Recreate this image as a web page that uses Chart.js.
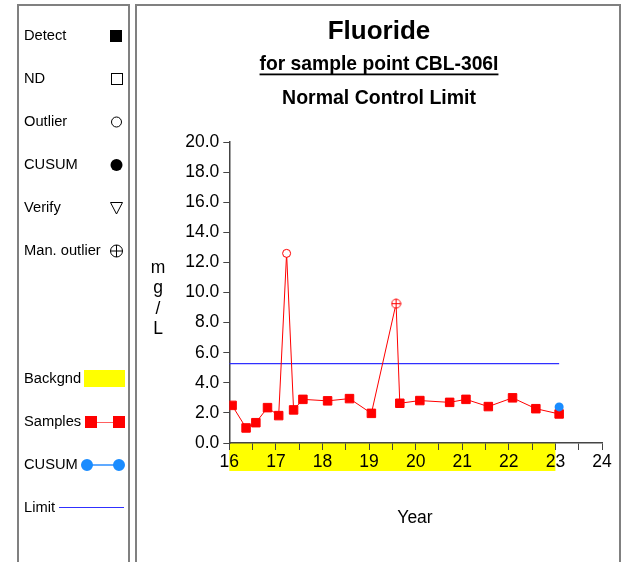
<!DOCTYPE html>
<html>
<head>
<meta charset="utf-8">
<script src="https://cdn.jsdelivr.net/npm/chart.js@4.4.1/dist/chart.umd.min.js"></script>
<style>
  body { margin: 0; background: #fff; }
  canvas { display: block; }
</style>
</head>
<body>
<canvas id="chart" width="630" height="562"></canvas>
<script>
// sample data
const sampleYear = [16.06, 16.36, 16.57, 16.82, 17.06, 17.23, 17.38, 17.58, 18.11, 18.58,
  19.05, 19.58, 19.66, 20.09, 20.73, 21.08, 21.56, 22.08, 22.58, 23.08];
const sampleValue = [2.5, 1.0, 1.35, 2.35, 1.82, 12.6, 2.2, 2.9, 2.8, 2.95,
  1.97, 9.26, 2.64, 2.82, 2.7, 2.9, 2.42, 3.0, 2.28, 1.93];
// D = detect, O = outlier, M = manual outlier
const sampleFlag = ["D", "D", "D", "D", "D", "O", "D", "D", "D", "D",
  "D", "M", "D", "D", "D", "D", "D", "D", "D", "D"];

const cusumYear = [23.08];
const cusumValue = [2.4];

const limitYear = [16, 23.08];
const limitValue = [5.28, 5.28];

const backgroundRange = [16, 23];

const yTicks = [0, 2, 4, 6, 8, 10, 12, 14, 16, 18, 20];

const FONT = "'Liberation Sans', Arial, sans-serif";
const RED = "#ff0000";
const CUSUM_BLUE = "#1a8cff";
const LIMIT_BLUE = "#3030ff";

// circle with a cross for manual outliers
function makeManOutlier() {
  const c = document.createElement("canvas");
  c.width = 11;
  c.height = 11;
  const g = c.getContext("2d");
  g.strokeStyle = RED;
  g.fillStyle = "#fff";
  g.lineWidth = 1;
  g.beginPath();
  g.arc(5.5, 5.5, 4.5, 0, Math.PI * 2);
  g.fill();
  g.stroke();
  g.beginPath();
  g.moveTo(1, 5.5);
  g.lineTo(10, 5.5);
  g.moveTo(5.5, 1);
  g.lineTo(5.5, 10);
  g.stroke();
  return c;
}
const manOutlierImg = makeManOutlier();

function zip(xs, ys) {
  return xs.map((x, i) => ({ x: x, y: ys[i] }));
}

// frames, titles, legend panel and the yellow background strip
const decorPlugin = {
  id: "decor",
  beforeDraw(chart) {
    const ctx = chart.ctx;
    const xs = chart.scales.x;
    const area = chart.chartArea;
    ctx.save();
    ctx.fillStyle = "#fff";
    ctx.fillRect(0, 0, chart.width, chart.height);

    ctx.strokeStyle = "#808080";
    ctx.lineWidth = 2;
    ctx.strokeRect(18, 5, 111, 600);
    ctx.strokeRect(136, 5, 484, 600);

    // background strip under the axis
    const x0 = xs.getPixelForValue(backgroundRange[0]);
    const x1 = xs.getPixelForValue(backgroundRange[1]);
    ctx.fillStyle = "#ffff00";
    ctx.fillRect(x0, area.bottom, x1 - x0, 28);

    // titles
    ctx.fillStyle = "#000";
    ctx.textAlign = "center";
    ctx.textBaseline = "middle";
    ctx.font = "bold 26px " + FONT;
    ctx.fillText("Fluoride", 379, 32);
    ctx.font = "bold 19.3px " + FONT;
    const sub = "for sample point CBL-306I";
    ctx.fillText(sub, 379, 65);
    const w = ctx.measureText(sub).width;
    ctx.fillRect(379 - w / 2, 73.5, w, 1.8);
    ctx.font = "bold 19.5px " + FONT;
    ctx.fillText("Normal Control Limit", 379, 99);

    // axis titles
    ctx.font = "17.5px " + FONT;
    ["m", "g", "/", "L"].forEach((ch, i) => {
      ctx.fillText(ch, 158, 268 + i * 20.5);
    });
    ctx.fillText("Year", 415, 518);

    // legend
    ctx.textAlign = "left";
    ctx.font = "14.7px " + FONT;
    const sx = 116.5;
    const items = ["Detect", "ND", "Outlier", "CUSUM", "Verify", "Man. outlier"];
    items.forEach((t, i) => ctx.fillText(t, 24, 36 + i * 43));
    ctx.lineWidth = 1;
    ctx.strokeStyle = "#000";
    ctx.fillStyle = "#000";
    ctx.fillRect(110, 30, 12, 12);
    ctx.strokeRect(111.5, 73.5, 11, 11);
    ctx.beginPath();
    ctx.arc(sx, 122, 5, 0, Math.PI * 2);
    ctx.stroke();
    ctx.beginPath();
    ctx.arc(sx, 165, 6, 0, Math.PI * 2);
    ctx.fill();
    ctx.beginPath();
    ctx.moveTo(sx - 6, 202.5);
    ctx.lineTo(sx + 6, 202.5);
    ctx.lineTo(sx, 214);
    ctx.closePath();
    ctx.stroke();
    ctx.beginPath();
    ctx.arc(sx, 251, 6, 0, Math.PI * 2);
    ctx.moveTo(sx - 6, 251);
    ctx.lineTo(sx + 6, 251);
    ctx.moveTo(sx, 245);
    ctx.lineTo(sx, 257);
    ctx.stroke();

    ctx.fillStyle = "#000";
    ctx.fillText("Backgnd", 24, 379);
    ctx.fillText("Samples", 24, 422);
    ctx.fillText("CUSUM", 24, 465);
    ctx.fillText("Limit", 24, 508);

    ctx.fillStyle = "#ffff00";
    ctx.fillRect(84, 370, 41, 17);

    ctx.strokeStyle = "#ff6060";
    ctx.beginPath();
    ctx.moveTo(90, 422.5);
    ctx.lineTo(120, 422.5);
    ctx.stroke();
    ctx.fillStyle = RED;
    ctx.fillRect(85, 416, 12, 12);
    ctx.fillRect(113, 416, 12, 12);

    ctx.strokeStyle = "#60aaff";
    ctx.lineWidth = 2;
    ctx.beginPath();
    ctx.moveTo(87, 465);
    ctx.lineTo(119, 465);
    ctx.stroke();
    ctx.fillStyle = CUSUM_BLUE;
    ctx.beginPath();
    ctx.arc(87, 465, 6, 0, Math.PI * 2);
    ctx.arc(119, 465, 6, 0, Math.PI * 2);
    ctx.fill();

    ctx.strokeStyle = LIMIT_BLUE;
    ctx.lineWidth = 1.2;
    ctx.beginPath();
    ctx.moveTo(59, 507.5);
    ctx.lineTo(124, 507.5);
    ctx.stroke();
    ctx.restore();
  },
};

const chartConfig = {
  type: "line",
  data: {
    datasets: [
      {
        label: "CUSUM",
        data: zip(cusumYear, cusumValue),
        showLine: false,
        pointRadius: 4.5,
        pointBackgroundColor: CUSUM_BLUE,
        pointBorderColor: CUSUM_BLUE,
        pointBorderWidth: 0,
        order: 0,
      },
      {
        label: "Samples",
        data: zip(sampleYear, sampleValue),
        borderColor: RED,
        borderWidth: 1,
        pointStyle: (c) => {
          const f = sampleFlag[c.dataIndex];
          if (f === "M") return manOutlierImg;
          return f === "O" ? "circle" : "rect";
        },
        pointRadius: (c) => (sampleFlag[c.dataIndex] === "D" ? 6 : 4),
        pointBackgroundColor: (c) => (sampleFlag[c.dataIndex] === "D" ? RED : "#fff"),
        pointBorderColor: RED,
        pointBorderWidth: 1,
        order: 1,
      },
      {
        label: "Limit",
        data: zip(limitYear, limitValue),
        borderColor: LIMIT_BLUE,
        borderWidth: 1.2,
        pointRadius: 0,
        order: 2,
      },
    ],
  },
  options: {
    responsive: false,
    animation: false,
    devicePixelRatio: 1,
    layout: { padding: { left: 140, right: 28, top: 142, bottom: 89 } },
    plugins: {
      legend: { display: false },
      tooltip: { enabled: false },
    },
    scales: {
      x: {
        type: "linear",
        min: 16,
        max: 24,
        afterFit: (s) => { s.height = 30; },
        ticks: {
          stepSize: 0.5,
          autoSkip: false,
          maxRotation: 0,
          padding: 2,
          color: "#000",
          font: { family: FONT, size: 17.5 },
          callback: (v) => (Number.isInteger(v) ? String(v) : ""),
        },
        grid: { drawOnChartArea: false, tickLength: 7, color: "#444" },
        border: { color: "#444", width: 1.5 },
      },
      y: {
        min: 0,
        max: 20,
        afterFit: (s) => { s.width = 89.3; },
        afterBuildTicks: (s) => { s.ticks = yTicks.map((v) => ({ value: v })); },
        ticks: {
          padding: 4,
          color: "#000",
          font: { family: FONT, size: 17.5 },
          callback: (v) => v.toFixed(1),
        },
        grid: { drawOnChartArea: false, tickLength: 6, color: "#444" },
        border: { color: "#444", width: 1.5 },
      },
    },
  },
  plugins: [decorPlugin],
};

new Chart(document.getElementById("chart"), chartConfig);
</script>
</body>
</html>
